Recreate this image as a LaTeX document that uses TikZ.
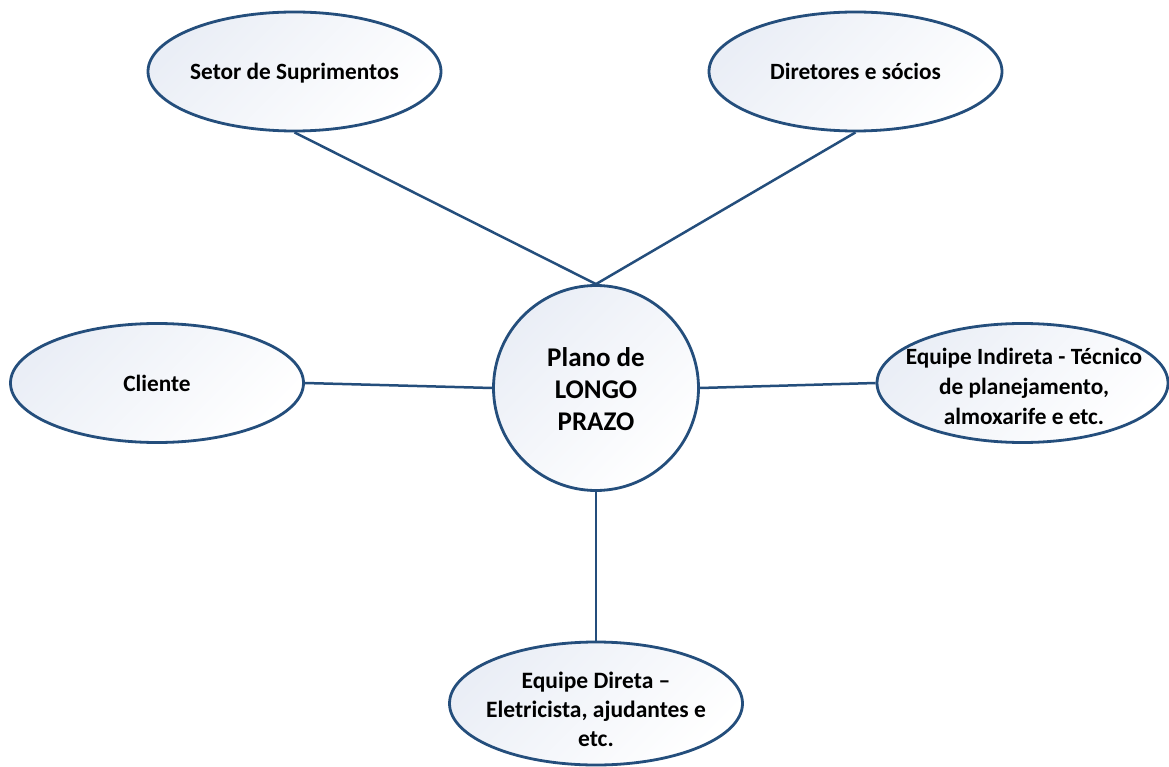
\documentclass[tikz,border=0pt]{standalone}
\usepackage{fontspec}
\setmainfont{Carlito}
\usetikzlibrary{shapes.geometric}
\definecolor{edge}{RGB}{36,78,124}
\definecolor{fillc}{RGB}{234,238,246}
\tikzset{
  bubble/.style={ellipse, draw=edge, line width=2.8pt, inner sep=0pt,
    top color=fillc, bottom color=white, shading angle=45,
    minimum width=293pt, minimum height=119pt},
  hub/.style={circle, draw=edge, line width=2.8pt, inner sep=0pt,
    top color=fillc, bottom color=white, shading angle=45,
    minimum size=205pt},
  label text/.style={align=center, inner sep=0pt,
    font=\bfseries\fontsize{23.3}{30}\selectfont},
  hub text/.style={align=center, inner sep=0pt,
    font=\bfseries\fontsize{27}{32}\selectfont},
  link/.style={draw=edge, line width=2.5pt}
}
\begin{document}
\begin{tikzpicture}[x=1pt,y=-1pt]
\useasboundingbox (0,0) rectangle (1169,767);
\fill[white] (0,0) rectangle (1169,767);
\node[hub] (c) at (596,388) {};
\node[hub text] (ct) at (596,389) {Plano de\\LONGO\\PRAZO};
\node[bubble] (s) at (294.5,71.5) {};
\node[label text] (st) at (294.5,73) {Setor de Suprimentos};
\node[bubble] (d) at (855.5,71.5) {};
\node[label text] (dt) at (855.5,71.5) {Diretores e sócios};
\node[bubble] (cl) at (157,383) {};
\node[label text] (clt) at (157,383) {Cliente};
\node[bubble, minimum width=291pt] (ei) at (1022.5,383) {};
\node[label text] (eit) at (1024,386) {Equipe Indireta - Técnico\\de planejamento,\\almoxarife e etc.};
\node[bubble, minimum height=123pt] (ed) at (596,703.5) {};
\node[label text, font=\bfseries\fontsize{23.5}{29}\selectfont] (edt) at (596,709) {Equipe Direta --\\Eletricista, ajudantes e\\etc.};
\draw[link] (s.south) -- (c.north);
\draw[link] (d.south) -- (c.north);
\draw[link] (cl.east) -- (c.west);
\draw[link] (ei.west) -- (c.east);
\draw[link] (c.south) -- (ed.north);
\end{tikzpicture}
\end{document}
